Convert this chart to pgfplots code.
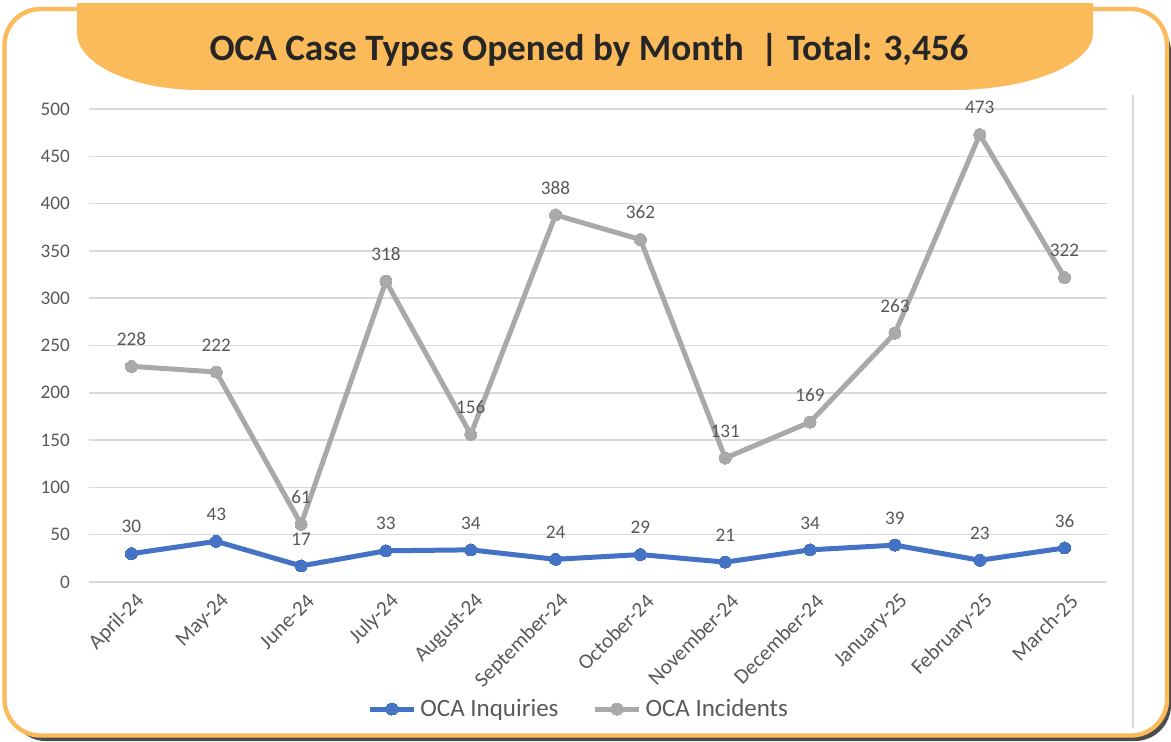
\documentclass[border=0pt]{standalone}
\usepackage{pgfplots}
\pgfplotsset{compat=1.18}
\usepackage{fontspec}
\setmainfont{Carlito}
\definecolor{ocaorange}{HTML}{FBBB5A}
\definecolor{ocablue}{HTML}{4472C4}
\definecolor{ocagray}{HTML}{A9A9AB}
\definecolor{txtgray}{HTML}{595959}
\definecolor{gridgray}{HTML}{D9D9D9}
\begin{document}
\begin{tikzpicture}
\begin{scope}[x=0.5pt,y=-0.5pt,shift={(-44.5pt,291pt)}]
 \useasboundingbox (0,0) rectangle (1171,741);
 \fill[black!70, rounded corners=18pt] (10,16) rectangle (1171,741);
 \draw[ocaorange, line width=2.2pt, fill=white, rounded corners=18pt] (4.5,9) rectangle (1167,735.5);
 \fill[ocaorange] (77,3) -- (1093,3) -- (1093,33) .. controls (1093,64) and (1030,90) .. (953,90) -- (200,90) .. controls (132,90) and (77,64) .. (77,33) -- cycle;
 \node[font=\fontsize{18.6}{20}\selectfont\bfseries, text=black!85] at (589,50) {OCA Case Types Opened by Month\ \ | Total: 3,456};
 \draw[gridgray, line width=1pt] (1133,95) -- (1133,728);
\end{scope}
\begin{axis}[
  at={(0,0)}, anchor=south west,
  scale only axis, width=509pt, height=236.5pt,
  xmin=-0.5, xmax=11.5, ymin=0, ymax=500,
  ytick={0,50,...,500},
  xtick={0,...,11},
  xticklabels={April-24,May-24,June-24,July-24,August-24,September-24,October-24,November-24,December-24,January-25,February-25,March-25},
  axis line style={draw=none},
  major tick length=0pt,
  ymajorgrids,
  grid style={gridgray, line width=0.75pt},
  /pgf/number format/assume math mode=true,
  tick label style={font=\fontsize{9.6}{11}\selectfont, text=txtgray},
  yticklabel style={xshift=-6pt},
  xticklabel style={rotate=45, anchor=east, inner sep=1pt, yshift=-9pt, xshift=-1pt, font=\fontsize{10.6}{12}\selectfont},
  nodes near coords,
  every node near coord/.append style={font=\fontsize{9.6}{11}\selectfont, text=txtgray, anchor=center, yshift=13.5pt},
  legend columns=2,
  legend style={at={(0.482,-0.2685)}, anchor=center, draw=none, fill=none, font=\fontsize{12.5}{14}\selectfont, text=txtgray, /tikz/every even column/.append style={column sep=15pt}},
  legend cell align=left,
  legend image code/.code={\draw[mark repeat=2,mark phase=2,#1] plot coordinates {(0pt,0pt)(11pt,0pt)(22pt,0pt)};},
]
\addplot[ocablue, line width=2.5pt, mark=*, mark size=3pt, mark options={solid, fill=ocablue, draw=ocablue, line width=0pt}] coordinates {
(0,30)(1,43)(2,17)(3,33)(4,34)(5,24)(6,29)(7,21)(8,34)(9,39)(10,23)(11,36)};
\addlegendentry{OCA Inquiries}
\addplot[ocagray, line width=2.5pt, mark=*, mark size=3pt, mark options={solid, fill=ocagray, draw=ocagray, line width=0pt}] coordinates {
(0,228)(1,222)(2,61)(3,318)(4,156)(5,388)(6,362)(7,131)(8,169)(9,263)(10,473)(11,322)};
\addlegendentry{OCA Incidents}
\end{axis}
\end{tikzpicture}
\end{document}
